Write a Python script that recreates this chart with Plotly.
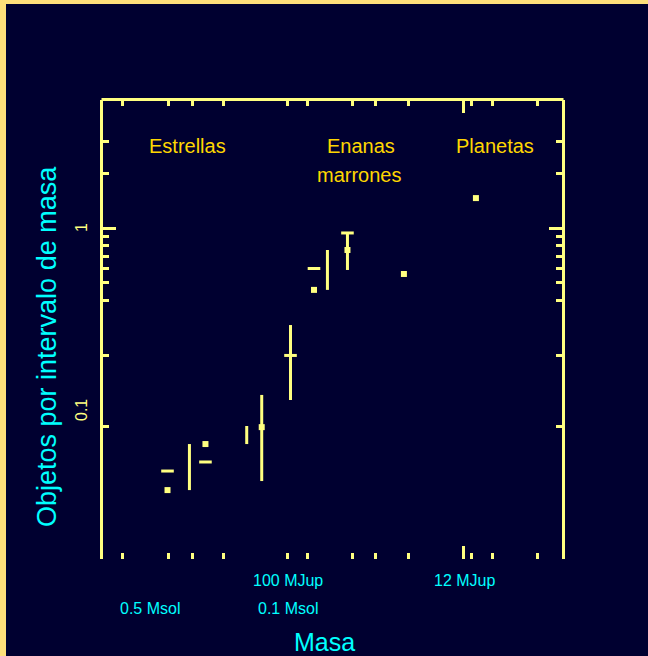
import numpy as np
import plotly.graph_objects as go

# ---------------- data (mass in Jupiter masses, objects per mass interval) ----
square_mass = [424, 269, 137, 73.2, 49, 24.9, 10.5]
square_val = [0.0363, 0.065, 0.0805, 0.457, 0.757, 0.559, 1.46]

dash_mass = [424, 269, 97, 73.2, 49]
dash_val = [0.0462, 0.0518, 0.1994, 0.599, 0.939]

bar_mass = [326, 164, 137, 97, 62.3, 49]
bar_lo = [0.0363, 0.065, 0.0407, 0.1135, 0.457, 0.588]
bar_hi = [0.065, 0.0817, 0.121, 0.293, 0.757, 0.939]

region_labels = ["Estrellas", "Enanas", "marrones", "Planetas"]
region_mass = [332, 41.5, 42.5, 8.4]
region_row = [0, 0, 1, 0]

x_major_ticks = [12.2]
x_minor_ticks = [730, 420, 315, 217, 100, 79, 46, 35, 23.6, 11.1, 8.6, 5]
y_major_ticks = [1]
y_minor_ticks = [3, 2, 0.9, 0.8, 0.7, 0.6, 0.5, 0.4, 0.2, 0.081]

x_label_mass = [100, 12, 524, 100]
x_label_text = ["100 MJup", "12 MJup", "0.5 Msol", "0.1 Msol"]
x_label_row = [0, 0, 1, 1]
y_label_val = [1, 0.1]
y_label_text = ["1", "0.1"]

# ---------------- style ----------------
W, H = 648, 656
L, R, T, B = 103, 562, 100, 559
BG = "#000030"
FRAME = "#ffe07a"
AX = "#ffff80"
GOLD = "#ffd700"
CYAN = "#00ffff"
FONT = "Liberation Sans, Arial, sans-serif"

pw, ph = R - L, B - T


def px_to_paper_x(px):
    return (px - L) / pw


def px_to_paper_y(py):
    return (B - py) / ph


fig = go.Figure()

# vertical bars
bx, by = [], []
for m, lo, hi in zip(bar_mass, bar_lo, bar_hi):
    bx += [m, m, None]
    by += [lo, hi, None]
fig.add_trace(go.Scatter(x=bx, y=by, mode="lines",
                         line=dict(color=AX, width=3), hoverinfo="skip"))

fig.add_trace(go.Scatter(x=dash_mass, y=dash_val, mode="markers",
                         marker=dict(symbol="line-ew", size=9,
                                     line=dict(color=AX, width=3))))
fig.add_trace(go.Scatter(x=square_mass, y=square_val, mode="markers",
                         marker=dict(symbol="square", size=6, color=AX,
                                     line=dict(width=0))))

axis_common = dict(showgrid=False, zeroline=False, ticks="inside",
                   tickcolor=AX, tickwidth=3, ticklen=13,
                   showticklabels=False)

fig.update_xaxes(type="log", range=[np.log10(919), np.log10(3.74)],
                 tickvals=x_major_ticks, showline=False, mirror="ticks",
                 minor=dict(tickvals=x_minor_ticks, ticks="inside",
                            ticklen=6, tickwidth=3, tickcolor=AX),
                 **axis_common)
fig.update_yaxes(type="log", range=[-1.8187, 0.7033],
                 tickvals=y_major_ticks, showline=True, linecolor=AX,
                 linewidth=3, mirror="ticks",
                 minor=dict(tickvals=y_minor_ticks, ticks="inside",
                            ticklen=6, tickwidth=3, tickcolor=AX),
                 **axis_common)

shapes = [
    # outer frame
    dict(type="rect", xref="paper", yref="paper",
         x0=px_to_paper_x(-5), x1=px_to_paper_x(W + 5),
         y0=px_to_paper_y(H + 5), y1=px_to_paper_y(-5),
         fillcolor=FRAME, line=dict(width=0), layer="below"),
    dict(type="rect", xref="paper", yref="paper",
         x0=px_to_paper_x(6), x1=px_to_paper_x(W + 5),
         y0=px_to_paper_y(H + 5), y1=px_to_paper_y(4),
         fillcolor=BG, line=dict(width=0), layer="below"),
    # top axis line
    dict(type="line", xref="paper", yref="paper",
         x0=px_to_paper_x(L - 1.5), x1=px_to_paper_x(R + 1.5),
         y0=px_to_paper_y(T - 0.5), y1=px_to_paper_y(T - 0.5),
         line=dict(color=AX, width=3)),
]

ann = []
for t, m, r in zip(region_labels, region_mass, region_row):
    ann.append(dict(text=t, x=np.log10(m), xref="x",
                    y=px_to_paper_y(146 + 29 * r), yref="paper",
                    showarrow=False, xanchor="center", yanchor="middle",
                    font=dict(family=FONT, size=20, color=GOLD)))
for m, t, r in zip(x_label_mass, x_label_text, x_label_row):
    ann.append(dict(text=t, x=np.log10(m), xref="x",
                    y=px_to_paper_y(580 + 28 * r), yref="paper",
                    showarrow=False, xanchor="center", yanchor="middle",
                    font=dict(family=FONT, size=16, color=CYAN)))
for v, t in zip(y_label_val, y_label_text):
    ann.append(dict(text=t, y=np.log10(v), yref="y", x=px_to_paper_x(81),
                    xref="paper", showarrow=False, textangle=-90,
                    xanchor="center", yanchor="middle",
                    font=dict(family=FONT, size=16, color=AX)))
ann.append(dict(text="Objetos por intervalo de masa", x=px_to_paper_x(47),
                y=px_to_paper_y(347), xref="paper", yref="paper",
                showarrow=False, textangle=-90, xanchor="center",
                yanchor="middle", font=dict(family=FONT, size=27, color=CYAN)))
ann.append(dict(text="Masa", x=px_to_paper_x(324), y=px_to_paper_y(626),
                xref="paper", yref="paper", showarrow=False,
                xanchor="center", yanchor="top",
                font=dict(family=FONT, size=25, color=CYAN)))

fig.update_layout(width=W, height=H, margin=dict(l=L, r=W - R, t=T, b=H - B),
                  paper_bgcolor=BG, plot_bgcolor=BG, showlegend=False,
                  shapes=shapes, annotations=ann)

fig.write_html("out.html")
